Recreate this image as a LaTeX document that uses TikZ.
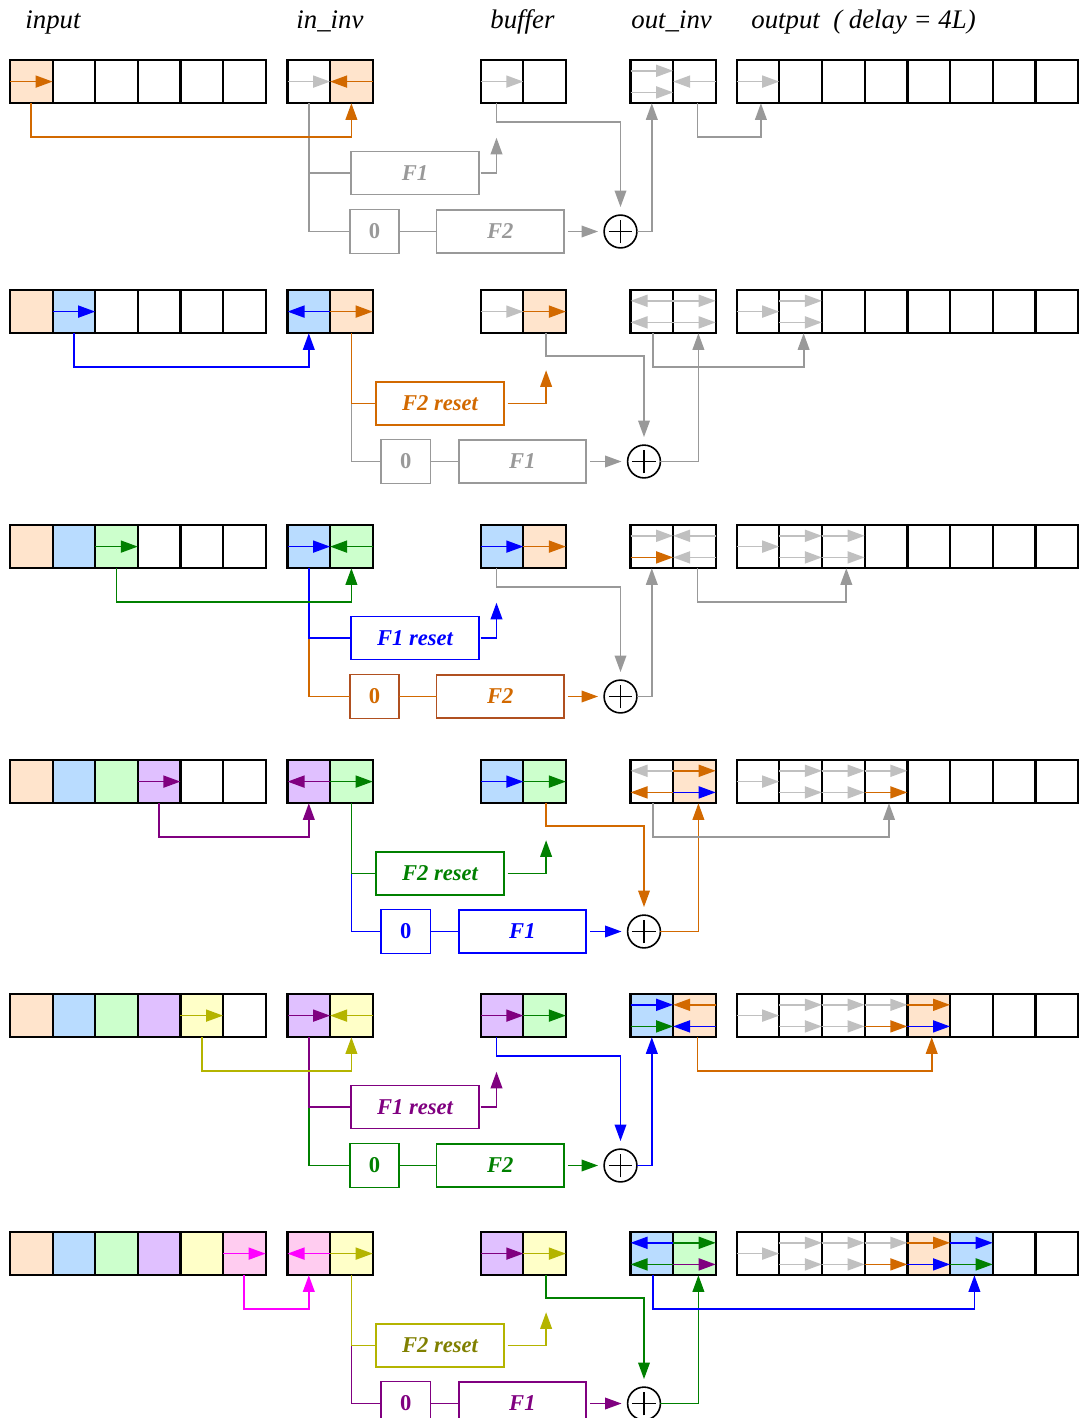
\documentclass[tikz,border=0pt]{standalone}
\usepackage{fontspec}
\setmainfont{Liberation Serif}
\usepackage{tikz}
\usetikzlibrary{arrows.meta,calc}

\definecolor{cOr}{RGB}{210,105,0}
\definecolor{cOrF}{RGB}{255,228,204}
\definecolor{cBl}{RGB}{0,0,255}
\definecolor{cBlF}{RGB}{185,220,255}
\definecolor{cGr}{RGB}{0,128,0}
\definecolor{cGrF}{RGB}{204,255,204}
\definecolor{cPu}{RGB}{128,0,128}
\definecolor{cPuF}{RGB}{224,192,255}
\definecolor{cYe}{RGB}{180,180,0}
\definecolor{cYeT}{RGB}{128,128,0}
\definecolor{cYeF}{RGB}{255,255,200}
\definecolor{cMa}{RGB}{255,0,255}
\definecolor{cMaF}{RGB}{255,204,240}
\definecolor{cGy}{RGB}{153,153,153}
\definecolor{cLt}{RGB}{192,192,192}
\definecolor{cBr}{RGB}{176,80,32}

\begin{document}
\begin{tikzpicture}[x=0.5pt, y=-0.5pt,
  cell/.style={draw=black, line width=1.1pt, minimum width=21.3pt, minimum height=21.6pt, inner sep=0pt, outer sep=0pt, fill=white},
  fbox/.style={draw, line width=0.85pt, minimum width=63.7pt, minimum height=21.5pt, inner sep=0pt, outer sep=0pt, font=\fontsize{11.3}{13}\selectfont\bfseries\itshape},
  zbox/.style={fbox, minimum width=24.7pt, minimum height=22pt, font=\fontsize{11.3}{13}\selectfont\bfseries},
  sumnode/.style={circle, draw=black, line width=0.8pt, minimum size=16.4pt, inner sep=0pt, outer sep=0pt,
    path picture={\draw[line width=0.7pt] ([xshift=-5.9pt]path picture bounding box.center) -- ([xshift=5.9pt]path picture bounding box.center)
      ([yshift=-5.9pt]path picture bounding box.center) -- ([yshift=5.9pt]path picture bounding box.center);}},
  title/.style={anchor=base west, inner sep=0pt, font=\fontsize{13.4}{16}\selectfont\itshape},
  trk/.style={-{Triangle[length=8.5pt, width=6pt]}, line width=0.85pt},
  arr/.style={-{Triangle[length=8.3pt, width=5.8pt]}, line width=0.9pt},
  wire/.style={line width=0.9pt}
]
\useasboundingbox (0,0) rectangle (1080,1418);

% headings
\node[title] (tin) at (25,29) {input};
\node[title] (tii) at (296,29) {in\_inv};
\node[title] (tbf) at (490,29) {buffer};
\node[title] (toi) at (631,29) {out\_inv};
\node[title] (tout) at (751,29) {output\ \ ( delay = 4L)};

% the cell rows
\foreach \r/\T/\ia/\ib/\ba/\bb/\oa/\ob/\pa/\pb in {
  1/60/white/cOrF/white/white/white/white/white/white,
  2/290/cBlF/cOrF/white/cOrF/white/white/white/white,
  3/525/cBlF/cGrF/cBlF/cOrF/white/white/white/white,
  4/760/cPuF/cGrF/cBlF/cGrF/white/cOrF/white/white,
  5/994/cPuF/cYeF/cPuF/cGrF/cBlF/cOrF/cOrF/white,
  6/1232/cMaF/cYeF/cPuF/cYeF/cBlF/cGrF/cOrF/cBlF}{
  \foreach \i/\c in {0/cOrF,1/cBlF,2/cGrF,3/cPuF,4/cYeF,5/cMaF}{
    \ifnum\i<\r\relax \def\cellfill{\c}\else\def\cellfill{white}\fi
    \node[cell, fill=\cellfill] (in\r-\i) at (31.3+42.6*\i,\T+21.6) {};
  }
  \node[cell, fill=\ia] (ii\r-0) at (308.8,\T+21.6) {};
  \node[cell, fill=\ib] (ii\r-1) at (351.4,\T+21.6) {};
  \node[cell, fill=\ba] (bf\r-0) at (502,\T+21.6) {};
  \node[cell, fill=\bb] (bf\r-1) at (544.6,\T+21.6) {};
  \node[cell, fill=\oa] (oi\r-0) at (651.8,\T+21.6) {};
  \node[cell, fill=\ob] (oi\r-1) at (694.4,\T+21.6) {};
  \foreach \i in {0,1,2,3,6,7}
    \node[cell] (out\r-\i) at (757.9+42.7*\i,\T+21.6) {};
  \node[cell, fill=\pa] (out\r-4) at (757.9+42.7*4,\T+21.6) {};
  \node[cell, fill=\pb] (out\r-5) at (757.9+42.7*5,\T+21.6) {};
  % output tracks
  \draw[trk, cLt] (out\r-0.west) -- (out\r-0.east);
  \foreach \i/\upc/\loc in {1/cLt/cLt,2/cLt/cLt,3/cLt/cOr,4/cOr/cBl,5/cBl/cGr}{
    \ifnum\i<\r\relax
      \draw[trk, \upc] ([yshift=5.4pt]out\r-\i.west) -- ([yshift=5.4pt]out\r-\i.east);
      \draw[trk, \loc] ([yshift=-5.4pt]out\r-\i.west) -- ([yshift=-5.4pt]out\r-\i.east);
    \fi
  }
}

% odd steps: F1 path feeds the buffer
\foreach \r/\T/\src/\ca/\cat/\cb/\cbb/\cs/\ct/\cu/\lab in {
  1/60/cOr/cGy/cGy/cGy/cGy/cGy/cGy/cGy/F1,
  3/525/cGr/cBl/cBl/cOr/cBr/cGy/cGy/cGy/F1 reset,
  5/994/cYe/cPu/cPu/cGr/cGr/cBl/cBl/cOr/F1 reset}{
  \pgfmathtruncatemacro\prev{\r-1}
  \node[fbox, draw=\ca, text=\cat] (fa\r) at (415,\T+113) {\lab};
  \node[zbox, draw=\cbb, text=\cb] (z\r) at (374.5,\T+171.5) {0};
  \node[fbox, draw=\cbb, text=\cb] (fb\r) at (500.2,\T+171.5) {F2};
  \node[sumnode] (sum\r) at (620.5,\T+171.5) {};
  \coordinate (br\r) at (ii\r-0.south |- fa\r.west);
  \coordinate (fo\r) at ($(bf\r-0.south)+(-5.5,34.5)$);
  \draw[wire, \cb] (br\r) |- (z\r.west);
  \draw[wire, \ca] (ii\r-0.south) -- (br\r) -- (fa\r.west);
  \draw[arr, \src] (in\r-\prev.south) -- ++(0,34) -| (ii\r-1.south);
  \draw[wire, \cb] (z\r) -- (fb\r);
  \draw[arr, \cb, shorten <=2pt, shorten >=3pt] (fb\r) -- (sum\r);
  \draw[arr, \ca, shorten <=1pt] (fa\r.east) -| (fo\r);
  \draw[arr, \cs, shorten >=4pt] ([xshift=-2.75pt]bf\r-0.south) -- ++(0,19) -| (sum\r.north);
  \draw[arr, \ct] (sum\r.east) -| (oi\r-0.south);
  \draw[arr, \cu] ([xshift=1.5pt]oi\r-1.south) -- ++(0,34) -| ([xshift=1.5pt]out\r-\prev.south);
}

% even steps: F2 path feeds the buffer
\foreach \r/\T/\src/\ca/\cat/\cb/\cbb/\cs/\ct/\cu/\lab in {
  2/290/cBl/cOr/cOr/cGy/cGy/cGy/cGy/cGy/F2 reset,
  4/760/cPu/cGr/cGr/cBl/cBl/cOr/cOr/cGy/F2 reset,
  6/1232/cMa/cYe/cYeT/cPu/cPu/cGr/cGr/cBl/F2 reset}{
  \pgfmathtruncatemacro\prev{\r-1}
  \node[fbox, draw=\ca, text=\cat] (fa\r) at (440,\T+113.5) {\lab};
  \node[zbox, draw=\cbb, text=\cb] (z\r) at (405.8,\T+171.5) {0};
  \node[fbox, draw=\cbb, text=\cb] (fb\r) at (522.4,\T+171.5) {F1};
  \node[sumnode] (sum\r) at (644,\T+171.5) {};
  \coordinate (br\r) at (ii\r-1.south |- fa\r.west);
  \coordinate (fo\r) at ($(bf\r-1.south)+(1.5,37)$);
  \draw[wire, \cb] (br\r) |- (z\r.west);
  \draw[arr, \src] (in\r-\prev.south) -- ++(0,34) -| (ii\r-0.south);
  \draw[wire, \cb] (z\r) -- (fb\r);
  \draw[arr, \cb, shorten <=2pt, shorten >=3pt] (fb\r) -- (sum\r);
  \draw[arr, \ca, shorten <=2pt] (fa\r.east) -| (fo\r);
  \draw[arr, \cs, shorten >=4pt] ([xshift=0.75pt]bf\r-1.south) -- ++(0,23) -| (sum\r.north);
  \draw[arr, \ct] (sum\r.east) -| ([xshift=2pt]oi\r-1.south);
  \draw[arr, \cu] ([xshift=0.5pt]oi\r-0.south) -- ++(0,34) -| ([xshift=1.5pt]out\r-\prev.south);
}
% reset taps of the even steps
\draw[wire, cOr] (ii2-1.south) -- (br2) -- (fa2.west);
\draw[wire, cGr] (ii4-1.south) -- (br4) -- (fa4.west);
\draw[wire, cYe] (ii6-1.south) -- (br6) -- (fa6.west);

% tracks, step 1
\draw[trk, cOr] (in1-0.west) -- (in1-0.east);
\draw[trk, cLt] (ii1-0.west) -- (ii1-0.east);
\draw[trk, cOr] (ii1-1.east) -- (ii1-1.west);
\draw[trk, cLt] (bf1-0.west) -- (bf1-0.east);
\draw[trk, cLt] ([yshift=5.4pt]oi1-0.west) -- ([yshift=5.4pt]oi1-0.east);
\draw[trk, cLt] ([yshift=-5.4pt]oi1-0.west) -- ([yshift=-5.4pt]oi1-0.east);
\draw[trk, cLt] (oi1-1.east) -- (oi1-1.west);
% tracks, step 2
\draw[trk, cBl] (in2-1.west) -- (in2-1.east);
\draw[trk, cBl] (ii2-0.east) -- (ii2-0.west);
\draw[trk, cOr] (ii2-1.west) -- (ii2-1.east);
\draw[trk, cLt] (bf2-0.west) -- (bf2-0.east);
\draw[trk, cOr] (bf2-1.west) -- (bf2-1.east);
\draw[trk, cLt] ([yshift=5.4pt]oi2-0.east) -- ([yshift=5.4pt]oi2-0.west);
\draw[trk, cLt] ([yshift=-5.4pt]oi2-0.east) -- ([yshift=-5.4pt]oi2-0.west);
\draw[trk, cLt] ([yshift=5.4pt]oi2-1.west) -- ([yshift=5.4pt]oi2-1.east);
\draw[trk, cLt] ([yshift=-5.4pt]oi2-1.west) -- ([yshift=-5.4pt]oi2-1.east);
% tracks, step 3
\draw[trk, cGr] (in3-2.west) -- (in3-2.east);
\draw[trk, cBl] (ii3-0.west) -- (ii3-0.east);
\draw[trk, cGr] (ii3-1.east) -- (ii3-1.west);
\draw[trk, cBl] (bf3-0.west) -- (bf3-0.east);
\draw[trk, cOr] (bf3-1.west) -- (bf3-1.east);
\draw[trk, cLt] ([yshift=5.4pt]oi3-0.west) -- ([yshift=5.4pt]oi3-0.east);
\draw[trk, cOr] ([yshift=-5.4pt]oi3-0.west) -- ([yshift=-5.4pt]oi3-0.east);
\draw[trk, cLt] ([yshift=5.4pt]oi3-1.east) -- ([yshift=5.4pt]oi3-1.west);
\draw[trk, cLt] ([yshift=-5.4pt]oi3-1.east) -- ([yshift=-5.4pt]oi3-1.west);
% tracks, step 4
\draw[trk, cPu] (in4-3.west) -- (in4-3.east);
\draw[trk, cPu] (ii4-0.east) -- (ii4-0.west);
\draw[trk, cGr] (ii4-1.west) -- (ii4-1.east);
\draw[trk, cBl] (bf4-0.west) -- (bf4-0.east);
\draw[trk, cGr] (bf4-1.west) -- (bf4-1.east);
\draw[trk, cLt] ([yshift=5.4pt]oi4-0.east) -- ([yshift=5.4pt]oi4-0.west);
\draw[trk, cOr] ([yshift=-5.4pt]oi4-0.east) -- ([yshift=-5.4pt]oi4-0.west);
\draw[trk, cOr] ([yshift=5.4pt]oi4-1.west) -- ([yshift=5.4pt]oi4-1.east);
\draw[trk, cBl] ([yshift=-5.4pt]oi4-1.west) -- ([yshift=-5.4pt]oi4-1.east);
% tracks, step 5
\draw[trk, cYe] (in5-4.west) -- (in5-4.east);
\draw[trk, cPu] (ii5-0.west) -- (ii5-0.east);
\draw[trk, cYe] (ii5-1.east) -- (ii5-1.west);
\draw[trk, cPu] (bf5-0.west) -- (bf5-0.east);
\draw[trk, cGr] (bf5-1.west) -- (bf5-1.east);
\draw[trk, cBl] ([yshift=5.4pt]oi5-0.west) -- ([yshift=5.4pt]oi5-0.east);
\draw[trk, cGr] ([yshift=-5.4pt]oi5-0.west) -- ([yshift=-5.4pt]oi5-0.east);
\draw[trk, cOr] ([yshift=5.4pt]oi5-1.east) -- ([yshift=5.4pt]oi5-1.west);
\draw[trk, cBl] ([yshift=-5.4pt]oi5-1.east) -- ([yshift=-5.4pt]oi5-1.west);
% tracks, step 6
\draw[trk, cMa] (in6-5.west) -- (in6-5.east);
\draw[trk, cMa] (ii6-0.east) -- (ii6-0.west);
\draw[trk, cYe] (ii6-1.west) -- (ii6-1.east);
\draw[trk, cPu] (bf6-0.west) -- (bf6-0.east);
\draw[trk, cYe] (bf6-1.west) -- (bf6-1.east);
\draw[trk, cBl] ([yshift=5.4pt]oi6-0.east) -- ([yshift=5.4pt]oi6-0.west);
\draw[trk, cGr] ([yshift=-5.4pt]oi6-0.east) -- ([yshift=-5.4pt]oi6-0.west);
\draw[trk, cGr] ([yshift=5.4pt]oi6-1.west) -- ([yshift=5.4pt]oi6-1.east);
\draw[trk, cPu] ([yshift=-5.4pt]oi6-1.west) -- ([yshift=-5.4pt]oi6-1.east);
\end{tikzpicture}
\end{document}
